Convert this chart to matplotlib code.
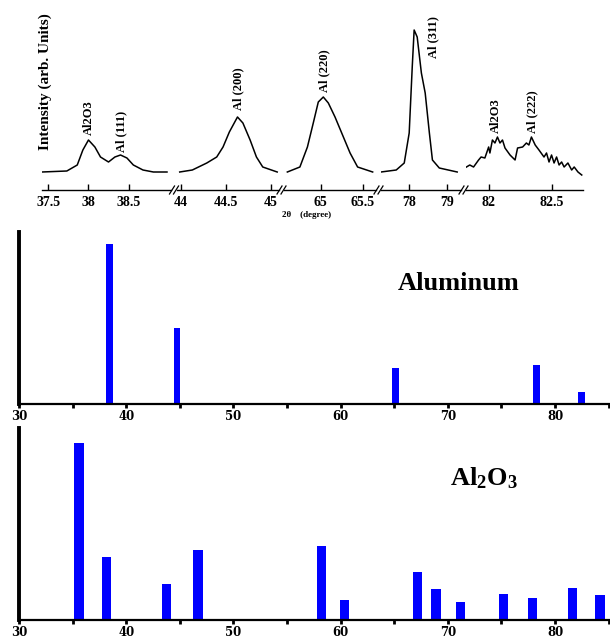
import matplotlib
matplotlib.use("Agg")
import matplotlib.pyplot as plt
from matplotlib.lines import Line2D

plt.rcParams['font.family'] = ['Liberation Serif', 'DejaVu Serif']
plt.rcParams['mathtext.fontset'] = 'custom'
plt.rcParams['mathtext.bf'] = 'Liberation Serif:bold'
plt.rcParams['mathtext.rm'] = 'Liberation Serif:bold'

# top panel: measured XRD pattern, five windows of the 2-theta axis
seg1_x = [37.42, 37.73, 37.86, 37.93, 38.0, 38.08, 38.15, 38.25, 38.33, 38.40, 38.48, 38.56, 38.68, 38.81, 38.98]
seg1_y = [0, 1, 7, 22, 32, 25, 15, 10, 15, 17, 14, 7, 2, 0, 0]

seg2_x = [43.99, 44.13, 44.29, 44.40, 44.47, 44.54, 44.60, 44.63, 44.69, 44.77, 44.84, 44.91, 45.07]
seg2_y = [0, 2, 9, 15, 25, 40, 50, 55, 49, 32, 15, 5, 0]

seg3_x = [64.60, 64.75, 64.84, 64.91, 64.97, 65.03, 65.09, 65.17, 65.27, 65.35, 65.44, 65.62]
seg3_y = [0, 5, 25, 49, 70, 75, 69, 55, 35, 19, 5, 0]

seg4_x = [77.26, 77.66, 77.87, 78.0, 78.08, 78.13, 78.21, 78.32, 78.42, 78.53, 78.61, 78.79, 79.26]
seg4_y = [0, 2, 9, 39, 105, 142, 135, 99, 79, 39, 12, 4, 0]

seg5_x = [81.81, 81.85, 81.88, 81.92, 81.94, 81.97, 82.0, 82.01, 82.03, 82.05, 82.07, 82.09, 82.11,
          82.13, 82.17, 82.21, 82.23, 82.27, 82.30, 82.32, 82.34, 82.37, 82.40, 82.44, 82.46, 82.48,
          82.50, 82.52, 82.54, 82.56, 82.58, 82.60, 82.63, 82.66, 82.68, 82.71, 82.74]
seg5_y = [4, 7, 5, 12, 15, 14, 25, 19, 32, 29, 35, 29, 32,
          24, 17, 12, 24, 25, 29, 27, 35, 27, 22, 15, 19, 10,
          17, 9, 15, 7, 10, 5, 9, 2, 5, 0, -3]

seg_limits = [(37.42, 39.03), (43.96, 45.09), (64.56, 65.66), (77.26, 79.36), (81.82, 82.75)]
seg_ticks = [[37.5, 38, 38.5], [44, 44.5, 45], [65, 65.5], [78, 79], [82, 82.5]]
seg_ticklabels = [['37.5', '38', '38.5'], ['44', '44.5', '45'], ['65', '65.5'], ['78', '79'], ['82', '82.5']]

# peak labels: (segment, x, height of label bottom, text)
peak_seg = [0, 0, 1, 2, 3, 4, 4]
peak_x = [38.0, 38.41, 44.64, 65.04, 78.63, 82.06, 82.35]
peak_y = [37, 20, 62, 80, 114, 39, 39]
peak_text = ['Al2O3', 'Al (111)', 'Al (200)', 'Al (220)', 'Al (311)', 'Al2O3', 'Al (222)']

# reference stick patterns
al_pos = [38.47, 44.74, 65.13, 78.23, 82.44]
al_int = [100, 47.5, 22.5, 24.4, 7.5]

alo_pos = [35.6, 38.2, 43.8, 46.7, 58.2, 60.4, 67.2, 68.9, 71.2, 75.2, 77.9, 81.6, 84.2]
alo_int = [100, 35.6, 20.3, 39.5, 41.8, 11.3, 27.1, 17.5, 10.2, 14.7, 12.4, 18.1, 14.1]

W, H = 610, 639
fig = plt.figure(figsize=(W / 100, H / 100), dpi=100)


def px_axes(x0, y0, x1, y1):
    return fig.add_axes([x0 / W, 1 - y1 / H, (x1 - x0) / W, (y1 - y0) / H])


seg_px = [(42, 171), (177, 279), (284, 376), (381, 461), (466, 583)]
seg_data = [(seg1_x, seg1_y), (seg2_x, seg2_y), (seg3_x, seg3_y), (seg4_x, seg4_y), (seg5_x, seg5_y)]
top_axes = []
for i in range(5):
    ax = px_axes(seg_px[i][0], 20, seg_px[i][1], 190)
    xs, ys = seg_data[i]
    ax.plot(xs, ys, color='black', lw=1.1)
    ax.set_xlim(*seg_limits[i])
    ax.set_ylim(-18, 152)
    ax.set_xticks(seg_ticks[i])
    ax.set_xticklabels(seg_ticklabels[i], fontsize=10, fontweight='bold')
    ax.set_yticks([])
    for s in ['left', 'right', 'top']:
        ax.spines[s].set_visible(False)
    ax.spines['bottom'].set_linewidth(1.0)
    ax.tick_params(axis='x', direction='in', length=4, width=1, pad=4)
    ax.patch.set_alpha(0)
    top_axes.append(ax)

for k in range(len(peak_text)):
    top_axes[peak_seg[k]].text(peak_x[k], peak_y[k], peak_text[k], rotation=90,
                               ha='center', va='bottom', fontsize=9, fontweight='bold')

# break marks on the top axis
for gx in [174, 281.5, 378.5, 463.5]:
    for dx in (-2, 2):
        cx = gx + dx
        fig.add_artist(Line2D([(cx - 2.5) / W, (cx + 2.5) / W], [1 - 194 / H, 1 - 186 / H],
                              color='black', lw=0.9, transform=fig.transFigure))

fig.text(45 / W, 1 - 82 / H, 'Intensity (arb. Units)', rotation=90, ha='center', va='center',
         fontsize=11, fontweight='bold')
fig.text(307 / W, 1 - 215 / H, '2θ    (degree)', ha='center', va='center',
         fontsize=6.5, fontweight='bold')

# stick pattern panels
x_right = 30 + (610 - 19) / 10.72


def stick_panel(y0, y1, pos, inten, width, top, label, lx, ly, lsize):
    ax = px_axes(19, y0, 610, y1)
    ax.bar(pos, inten, width=width, color='#0000ff')
    ax.set_xlim(30, x_right)
    ax.set_ylim(0, top)
    ax.set_yticks([])
    ax.set_xticks([30, 40, 50, 60, 70, 80])
    ax.set_xticks([35, 45, 55, 65, 75, 85], minor=True)
    ax.set_xticklabels(['30', '40', '50', '60', '70', '80'], fontsize=8.5, fontweight='bold',
                       family=['DejaVu Serif'])
    ax.tick_params(axis='x', which='both', direction='out', length=3, width=2, pad=1.5)
    ax.spines['top'].set_visible(False)
    ax.spines['right'].set_visible(False)
    ax.spines['left'].set_linewidth(2.8)
    ax.spines['bottom'].set_linewidth(1.6)
    ax.text(lx, ly, label, transform=ax.transAxes, ha='center', va='center',
            fontsize=lsize, fontweight='bold')
    return ax


stick_panel(232, 404, al_pos, al_int, 0.65, 107.5, 'Aluminum',
            (459 - 19) / 591, (404 - 284) / 172, 19)
stick_panel(428, 620, alo_pos, alo_int, 0.85, 108.5, r'Al$\mathbf{_2}$O$\mathbf{_3}$',
            (484 - 19) / 591, (620 - 478) / 192, 19)

fig.savefig('out.png', dpi=100)
